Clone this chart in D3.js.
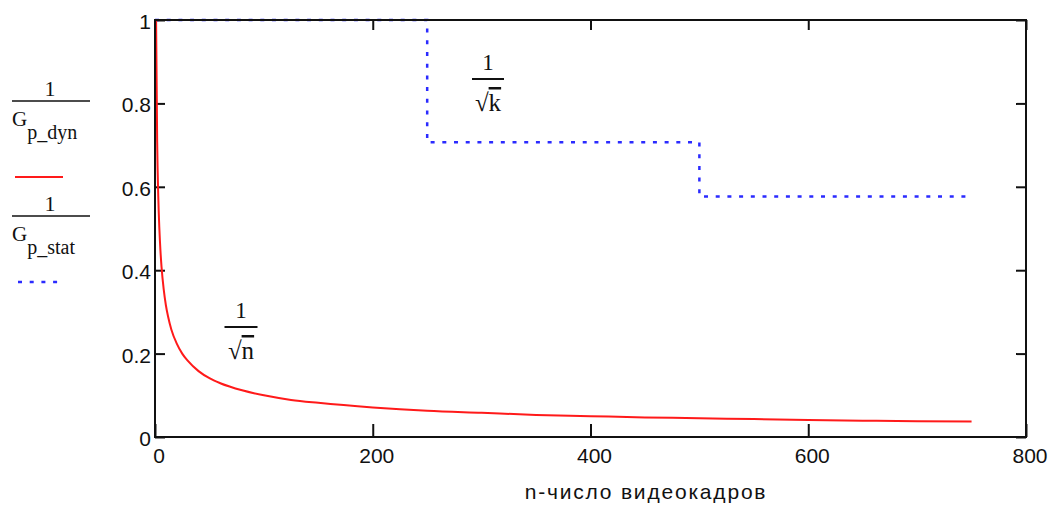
<!DOCTYPE html>
<html>
<head>
<meta charset="utf-8">
<script src="https://cdn.jsdelivr.net/npm/d3@7"></script>
<style>
  body { margin: 0; background: #fff; }
  .tick-label { font-family: "Liberation Sans", Arial, sans-serif; font-size: 21px; fill: #111; }
  .math { font-family: "Liberation Serif", "Times New Roman", serif; fill: #111; }
</style>
</head>
<body>
<div id="chart"></div>
<script>
// values
var nVals = [1, 2, 3, 4, 5, 6, 8, 10, 12, 15, 20, 25, 30, 40, 50, 60, 80, 100, 125, 150, 200, 250, 300, 350, 400, 450, 500, 550, 600, 650, 700, 750];
var dynVals = [1, 0.707, 0.577, 0.5, 0.447, 0.408, 0.354, 0.316, 0.289, 0.258, 0.224, 0.2, 0.183, 0.158, 0.141, 0.129, 0.112, 0.1, 0.089, 0.082, 0.071, 0.063, 0.058, 0.053, 0.05, 0.047, 0.045, 0.043, 0.041, 0.039, 0.038, 0.037];

var kEdges = [0, 250, 500, 750];
var statVals = [1, 0.707, 0.577];

var xTicks = [0, 200, 400, 600, 800];
var yTicks = [0, 0.2, 0.4, 0.6, 0.8, 1];
var xTitle = "n-число видеокадров";

var svgWidth = 1050;
var svgHeight = 505;

var margin = {top: 20, right: 24, bottom: 68, left: 155};
var width = svgWidth - margin.left - margin.right;
var height = svgHeight - margin.top - margin.bottom;

var svg = d3.select("#chart")
    .append("svg")
    .attr("width", svgWidth)
    .attr("height", svgHeight);

var chartGroup = svg.append("g")
    .attr("transform", `translate(${margin.left}, ${margin.top})`);

var xScale = d3.scaleLinear().domain([0, 800]).range([0, width]);
var yScale = d3.scaleLinear().domain([0, 1]).range([height, 0]);

// frame ticks on all four sides, pointing inward
var tickLen = 10;
chartGroup.append("g")
    .attr("transform", `translate(0, ${height})`)
    .call(d3.axisBottom(xScale).tickValues(xTicks).tickSizeInner(-13).tickSizeOuter(0).tickFormat(""));
chartGroup.append("g")
    .call(d3.axisTop(xScale).tickValues(xTicks).tickSizeInner(-tickLen).tickSizeOuter(0).tickFormat(""));
chartGroup.append("g")
    .call(d3.axisLeft(yScale).tickValues(yTicks).tickSizeInner(-tickLen).tickSizeOuter(0).tickFormat(""));
chartGroup.append("g")
    .attr("transform", `translate(${width}, 0)`)
    .call(d3.axisRight(yScale).tickValues(yTicks).tickSizeInner(-tickLen).tickSizeOuter(0).tickFormat(""));

chartGroup.selectAll(".domain").remove();
chartGroup.selectAll(".tick line").attr("stroke", "#111").attr("stroke-width", 2);

// tick labels
chartGroup.selectAll(".xlab")
    .data(xTicks)
    .enter()
    .append("text")
    .attr("class", "tick-label")
    .attr("text-anchor", "middle")
    .attr("x", d => xScale(d) + 4)
    .attr("y", height + 26)
    .text(d => d);

chartGroup.selectAll(".ylab")
    .data(yTicks)
    .enter()
    .append("text")
    .attr("class", "tick-label")
    .attr("text-anchor", "end")
    .attr("x", -4)
    .attr("y", d => yScale(d) + 9)
    .text(d => d);

// series
var dynData = nVals.map((n, i) => ({n: n, v: dynVals[i]}));
var statData = kEdges.map((n, i) => ({n: n, v: statVals[Math.min(i, statVals.length - 1)]}));

var dynLine = d3.line()
    .x(d => xScale(d.n))
    .y(d => yScale(d.v))
    .curve(d3.curveMonotoneX);

var statLine = d3.line()
    .x(d => xScale(d.n))
    .y(d => yScale(d.v))
    .curve(d3.curveStepAfter);

chartGroup.append("path")
    .datum(statData)
    .attr("fill", "none")
    .attr("stroke", "#2b2bff")
    .attr("stroke-width", 2.5)
    .attr("stroke-dasharray", "4 7.7")
    .attr("d", statLine);

chartGroup.append("path")
    .datum(dynData)
    .attr("fill", "none")
    .attr("stroke", "#ff1a1a")
    .attr("stroke-width", 2)
    .attr("d", dynLine);

// frame
chartGroup.append("rect")
    .attr("x", 0)
    .attr("y", 0)
    .attr("width", width)
    .attr("height", height)
    .attr("fill", "none")
    .attr("stroke", "#111")
    .attr("stroke-width", 2);

// x axis title
svg.append("text")
    .attr("class", "tick-label")
    .attr("text-anchor", "middle")
    .attr("x", 646)
    .attr("y", 499)
    .style("letter-spacing", "1.8px")
    .text(xTitle);

// in-plot fraction labels
function fraction(g, x, num, den, barW) {
    g.append("text").attr("class", "math").attr("text-anchor", "middle")
        .attr("x", x).attr("y", -9).style("font-size", "23px").text(num);
    g.append("line").attr("x1", x - barW / 2).attr("x2", x + barW / 2)
        .attr("y1", 0).attr("y2", 0).attr("stroke", "#111").attr("stroke-width", 2);
    var t = g.append("text").attr("class", "math").attr("text-anchor", "middle")
        .attr("x", x).attr("y", 32).style("font-size", "25px");
    t.append("tspan").text("\u221A");
    t.append("tspan").style("text-decoration", "overline").text(den);
}

fraction(svg.append("g").attr("transform", "translate(0, 79)"), 488, "1", "k", 32);
fraction(svg.append("g").attr("transform", "translate(0, 327)"), 241, "1", "n", 33);

// legend on the left
function legendEntry(y, sub) {
    var g = svg.append("g").attr("transform", `translate(0, ${y})`);
    g.append("text").attr("class", "math").attr("text-anchor", "middle")
        .attr("x", 50).attr("y", -5).style("font-size", "22px").text("1");
    g.append("line").attr("x1", 12).attr("x2", 90).attr("y1", 0).attr("y2", 0)
        .attr("stroke", "#111").attr("stroke-width", 1.5);
    var t = g.append("text").attr("class", "math").attr("x", 12).attr("y", 25).style("font-size", "21px");
    t.append("tspan").text("G");
    t.append("tspan").attr("dy", 13).style("font-size", "20px").text(sub);
    return g;
}

legendEntry(101, "p_dyn");
legendEntry(216, "p_stat");

svg.append("line")
    .attr("x1", 15).attr("x2", 63).attr("y1", 177).attr("y2", 177)
    .attr("stroke", "#ff1a1a").attr("stroke-width", 2);

svg.append("line")
    .attr("x1", 18).attr("x2", 60).attr("y1", 282).attr("y2", 282)
    .attr("stroke", "#2b2bff").attr("stroke-width", 2.5)
    .attr("stroke-dasharray", "4 7.7");
</script>
</body>
</html>
